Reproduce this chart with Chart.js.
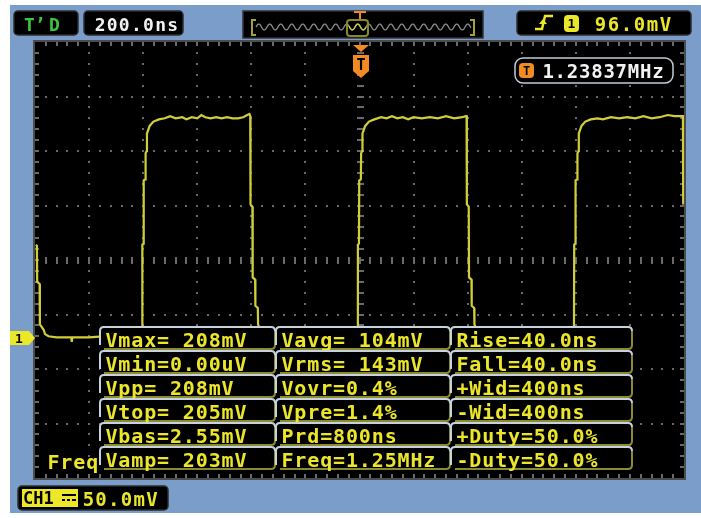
<!DOCTYPE html>
<html>
<head>
<meta charset="utf-8">
<script src="https://cdn.jsdelivr.net/npm/chart.js@4.4.0/dist/chart.umd.min.js"></script>
<style>
  html, body { margin: 0; padding: 0; background: #fff; }
  canvas { display: block; }
</style>
</head>
<body>
<canvas id="scope" width="701" height="518"></canvas>
<script>
// Trace: time in ns (0 = trigger point), level in mV
const timeNs = [
  -1197, -1193, -1192, -1183, -1182, -1168, -1163, -1150, -1120, -1066, -1064, -1062, -1000, -950, -900, -850,
  -804, -803, -799, -798, -792, -791, -787, -786, -776, -762, -742, -720, -700, -680, -655, -640, -620, -600,
  -585, -570, -550, -530, -510, -490, -470, -450, -430, -415, -407,
  -404, -403, -396, -395, -386, -385, -376, -375, -365, -350, -330, -300, -250, -200, -150, -100, -50,
  -7, -6, -2, -1, 5, 6, 10, 11, 21, 35, 55, 80, 100, 120, 140, 160, 180, 200, 230, 260, 290, 320, 350, 380, 393,
  396, 397, 404, 405, 414, 415, 424, 425, 435, 450, 470, 500, 550, 600, 650, 700, 750,
  793, 794, 798, 799, 805, 806, 810, 811, 821, 835, 855, 880, 900, 930, 960, 990, 1020, 1050, 1080, 1110, 1140,
  1165, 1180, 1196, 1197
];
const voltMv = [
  86, 85, 52, 50, 13, 8, 4, 2, 1, 1, -3, 1, 1, 2, 1, 1,
  1, 86, 87, 145, 146, 170, 172, 188, 195, 199, 201, 202, 204, 202, 203, 201, 203, 202,
  205, 203, 202, 203, 202, 203, 202, 202, 203, 205, 206,
  204, 123, 121, 56, 54, 30, 28, 13, 6, 3, 1, 2, 1, 1, 2, 1, 1,
  1, 86, 87, 145, 146, 170, 172, 188, 195, 199, 201, 203, 202, 204, 202, 203, 201, 203, 202, 203, 202, 204, 202, 203, 204,
  204, 123, 121, 56, 54, 30, 28, 13, 6, 3, 1, 2, 1, 1, 2, 1, 1,
  1, 86, 87, 145, 146, 170, 172, 188, 195, 199, 201, 202, 201, 203, 202, 203, 202, 204, 202, 203, 205,
  204, 204, 204, 123
];

// Screen scale: 12 x 8 divisions
const timeRange = [-1200, 1200];   // 200 ns/div
const voltRange = [-128, 272];     // 50 mV/div, ground 72 mV below centre
const timeDiv = 200;
const voltDiv = 50;

// Readouts on the screen
const timeBase = '200.0ns';
const trigLevel = '96.0mV';
const counterFreq = '1.23837MHz';
const chScale = '50.0mV';
const measureCol1 = ['Vmax= 208mV', 'Vmin=0.00uV', 'Vpp= 208mV', 'Vtop= 205mV', 'Vbas=2.55mV', 'Vamp= 203mV'];
const measureCol2 = ['Vavg= 104mV', 'Vrms= 143mV', 'Vovr=0.4%', 'Vpre=1.4%', 'Prd=800ns', 'Freq=1.25MHz'];
const measureCol3 = ['Rise=40.0ns', 'Fall=40.0ns', '+Wid=400ns', '-Wid=400ns', '+Duty=50.0%', '-Duty=50.0%'];

const YELLOW = '#ece62a';
const TRACE = '#d2ce3a';
const ORANGE = '#f28c22';
const MONO = '"DejaVu Sans Mono", monospace';

function monoText(ctx, str, x, base, pitch, size, color, bold) {
  ctx.font = (bold ? 'bold ' : '') + size + 'px ' + MONO;
  ctx.fillStyle = color;
  ctx.textAlign = 'center';
  ctx.textBaseline = 'alphabetic';
  for (let i = 0; i < str.length; i++) {
    ctx.fillText(str[i], x + pitch * i + pitch / 2, base);
  }
}

function darkBox(ctx, x, y, w, h, r) {
  ctx.beginPath();
  ctx.roundRect(x, y, w, h, r);
  ctx.fillStyle = '#000';
  ctx.fill();
  ctx.strokeStyle = '#2c2c2c';
  ctx.lineWidth = 1.5;
  ctx.stroke();
}

function measureCell(ctx, x, y, w, h) {
  const r = 4;
  ctx.fillStyle = '#000';
  ctx.fillRect(x, y, w, h);
  ctx.lineWidth = 2;
  ctx.strokeStyle = '#8d8b30';
  ctx.beginPath();
  ctx.moveTo(x + r, y + h);
  ctx.lineTo(x + w - r, y + h);
  ctx.quadraticCurveTo(x + w, y + h, x + w, y + h - r);
  ctx.lineTo(x + w, y + r);
  ctx.stroke();
  ctx.strokeStyle = '#c6d2de';
  ctx.beginPath();
  ctx.moveTo(x, y + h - r);
  ctx.lineTo(x, y + r);
  ctx.quadraticCurveTo(x, y, x + r, y);
  ctx.lineTo(x + w - r, y);
  ctx.quadraticCurveTo(x + w, y, x + w, y + r);
  ctx.stroke();
}

// panel, screen and graticule
const graticule = {
  id: 'graticule',
  beforeDraw(chart) {
    const ctx = chart.ctx;
    const a = chart.chartArea;
    ctx.save();
    ctx.fillStyle = '#fff';
    ctx.fillRect(0, 0, chart.width, chart.height);
    ctx.fillStyle = '#7b9dca';
    ctx.fillRect(10, 5, 691, 508);
    ctx.fillStyle = '#000';
    ctx.fillRect(a.left, a.top, a.right - a.left, a.bottom - a.top);
    ctx.strokeStyle = '#4c4c4c';
    ctx.lineWidth = 2;
    ctx.strokeRect(a.left - 1, a.top - 1, a.right - a.left + 2, a.bottom - a.top + 2);
    ctx.restore();
  },
  beforeDatasetsDraw(chart) {
    const ctx = chart.ctx;
    const xs = chart.scales.x, ys = chart.scales.y;
    const a = chart.chartArea;
    const minorT = timeDiv / 5, minorV = voltDiv / 5;
    const midV = (voltRange[0] + voltRange[1]) / 2;
    ctx.save();
    ctx.fillStyle = '#6a6a6a';
    // vertical dotted lines
    for (let t = timeRange[0] + timeDiv; t < timeRange[1]; t += timeDiv) {
      const px = Math.round(xs.getPixelForValue(t));
      for (let v = voltRange[0] + minorV; v < voltRange[1]; v += minorV) {
        const py = Math.round(ys.getPixelForValue(v));
        if (t === 0) ctx.fillRect(px - 3, py - 1, 7, 2);
        else ctx.fillRect(px - 1, py - 1, 2, 2);
      }
    }
    // horizontal dotted lines
    for (let v = voltRange[0] + voltDiv; v < voltRange[1]; v += voltDiv) {
      const py = Math.round(ys.getPixelForValue(v));
      for (let t = timeRange[0] + minorT; t < timeRange[1]; t += minorT) {
        const px = Math.round(xs.getPixelForValue(t));
        if (v === midV) ctx.fillRect(px - 1, py - 3, 2, 7);
        else ctx.fillRect(px - 1, py - 1, 2, 2);
      }
    }
    // edge ticks
    for (let t = timeRange[0] + minorT; t < timeRange[1]; t += minorT) {
      const px = Math.round(xs.getPixelForValue(t));
      ctx.fillRect(px - 1, a.top, 2, 4);
      ctx.fillRect(px - 1, a.bottom - 4, 2, 4);
    }
    for (let v = voltRange[0] + minorV; v < voltRange[1]; v += minorV) {
      const py = Math.round(ys.getPixelForValue(v));
      ctx.fillRect(a.left, py - 1, 4, 2);
      ctx.fillRect(a.right - 4, py - 1, 4, 2);
    }
    ctx.restore();
  },
  afterDatasetsDraw(chart) {
    const ctx = chart.ctx;
    const ys = chart.scales.y;
    const xs = chart.scales.x;
    ctx.save();

    // top status bar
    darkBox(ctx, 14, 11, 64, 24, 4);
    ctx.font = 'bold 18px ' + MONO;
    ctx.fillStyle = '#3fc43f';
    ctx.textAlign = 'left';
    ctx.fillText('T\u2019', 24, 31);
    ctx.fillText('D', 49, 31);
    darkBox(ctx, 84, 11, 99, 24, 4);
    monoText(ctx, timeBase, 94, 31, 12.1, 18, '#f2f2f2', true);

    // memory window bar
    ctx.fillStyle = '#000';
    ctx.fillRect(243, 11, 240, 27);
    ctx.strokeStyle = '#333';
    ctx.lineWidth = 1.5;
    ctx.strokeRect(243, 11, 240, 27);
    ctx.lineWidth = 1.3;
    ctx.strokeStyle = '#8e8e8e';
    ctx.beginPath();
    for (let x = 256; x <= 471; x += 0.5) {
      const y = 27 - 3 * Math.sin((x - 256) / 11 * 2 * Math.PI);
      if (x === 256) ctx.moveTo(x, y); else ctx.lineTo(x, y);
    }
    ctx.stroke();
    ctx.strokeStyle = TRACE;
    ctx.beginPath();
    for (let x = 349; x <= 366; x += 0.5) {
      const y = 27 - 3 * Math.sin((x - 256) / 11 * 2 * Math.PI);
      if (x === 349) ctx.moveTo(x, y); else ctx.lineTo(x, y);
    }
    ctx.stroke();
    ctx.strokeStyle = '#8a8a22';
    ctx.lineWidth = 2;
    ctx.beginPath();
    ctx.roundRect(347, 20, 21, 16, 3);
    ctx.stroke();
    ctx.strokeStyle = '#a5a235';
    ctx.beginPath();
    ctx.moveTo(256, 20); ctx.lineTo(252, 20); ctx.lineTo(252, 35); ctx.lineTo(256, 35);
    ctx.moveTo(470, 20); ctx.lineTo(474, 20); ctx.lineTo(474, 35); ctx.lineTo(470, 35);
    ctx.stroke();
    ctx.strokeStyle = ORANGE;
    ctx.lineWidth = 2;
    ctx.beginPath();
    ctx.moveTo(354, 12); ctx.lineTo(366, 12);
    ctx.moveTo(360, 12); ctx.lineTo(360, 19);
    ctx.stroke();

    // trigger readout
    darkBox(ctx, 517, 11, 174, 24, 4);
    ctx.strokeStyle = YELLOW;
    ctx.fillStyle = YELLOW;
    ctx.lineWidth = 2.5;
    ctx.beginPath();
    ctx.moveTo(535, 29); ctx.lineTo(542, 29); ctx.lineTo(545, 16); ctx.lineTo(553, 16);
    ctx.stroke();
    ctx.beginPath();
    ctx.moveTo(539, 24); ctx.lineTo(547, 24); ctx.lineTo(543, 19); ctx.closePath();
    ctx.fill();
    ctx.beginPath();
    ctx.roundRect(564, 15, 15, 17, 4);
    ctx.fill();
    ctx.font = 'bold 13px ' + MONO;
    ctx.fillStyle = '#000';
    ctx.textAlign = 'center';
    ctx.fillText('1', 571.5, 28);
    monoText(ctx, trigLevel, 594, 31, 13, 19, YELLOW, true);

    // trigger position marker
    const tx = Math.round(xs.getPixelForValue(0)) + 1;
    ctx.fillStyle = ORANGE;
    ctx.beginPath();
    ctx.moveTo(tx - 8, 45); ctx.lineTo(tx + 8, 45); ctx.lineTo(tx, 52); ctx.closePath();
    ctx.fill();
    ctx.beginPath();
    ctx.moveTo(tx - 8, 55); ctx.lineTo(tx + 8, 55); ctx.lineTo(tx + 8, 71);
    ctx.lineTo(tx, 78); ctx.lineTo(tx - 8, 71); ctx.closePath();
    ctx.fill();
    ctx.font = 'bold 15px ' + MONO;
    ctx.fillStyle = '#000';
    ctx.fillText('T', tx, 70);

    // frequency counter
    ctx.beginPath();
    ctx.roundRect(515, 58, 158, 25, 8);
    ctx.fillStyle = '#000';
    ctx.fill();
    ctx.strokeStyle = '#c2ccd6';
    ctx.lineWidth = 1.5;
    ctx.stroke();
    ctx.beginPath();
    ctx.roundRect(519, 63, 15, 15, 4);
    ctx.fillStyle = ORANGE;
    ctx.fill();
    ctx.font = 'bold 12px ' + MONO;
    ctx.fillStyle = '#000';
    ctx.fillText('T', 526.5, 75);
    monoText(ctx, counterFreq, 542, 78, 12.2, 19, '#f2f2f2', true);

    // ground marker for channel 1
    const gy = Math.round(ys.getPixelForValue(0));
    ctx.fillStyle = '#ede72a';
    ctx.beginPath();
    ctx.moveTo(10, gy - 7); ctx.lineTo(29, gy - 7); ctx.lineTo(35, gy);
    ctx.lineTo(29, gy + 7); ctx.lineTo(10, gy + 7); ctx.closePath();
    ctx.fill();
    ctx.font = 'bold 13px ' + MONO;
    ctx.fillStyle = '#000';
    ctx.fillText('1', 19, gy + 5);

    // label partly hidden behind the table
    monoText(ctx, 'Freq', 47, 469, 12.9, 20, YELLOW, true);

    // measurement table
    const cols = [[100, 175, measureCol1], [276, 174, measureCol2], [451, 181, measureCol3]];
    for (let r = 0; r < 6; r++) {
      const y = 327 + r * 24;
      cols.forEach(([x, w, list]) => {
        measureCell(ctx, x, y, w, 22);
        monoText(ctx, list[r], x + 5, y + 20, 12.9, 20, YELLOW, true);
      });
    }

    // channel scale readout
    darkBox(ctx, 18, 486, 150, 24, 4);
    ctx.fillStyle = '#ede72a';
    ctx.fillRect(22, 489, 56, 18);
    ctx.font = 'bold 17px ' + MONO;
    ctx.fillStyle = '#000';
    ctx.textAlign = 'left';
    ctx.fillText('CH1', 23, 504);
    ctx.fillRect(62, 494, 14, 2);
    ctx.fillRect(62, 499, 3, 2);
    ctx.fillRect(67, 499, 3, 2);
    ctx.fillRect(72, 499, 4, 2);
    monoText(ctx, chScale, 82, 506, 12.7, 19, YELLOW, true);

    ctx.restore();
  }
};

const ctxScope = document.getElementById('scope').getContext('2d');
const scopeChart = new Chart(ctxScope, {
  type: 'line',
  data: {
    datasets: [{
      label: 'CH1',
      data: timeNs.map((t, i) => ({ x: t, y: voltMv[i] })),
      borderColor: TRACE,
      borderWidth: 2.2,
      pointRadius: 0,
      tension: 0,
      fill: false
    }]
  },
  options: {
    responsive: false,
    animation: false,
    devicePixelRatio: 1,
    layout: { padding: { left: 35, right: 17, top: 42, bottom: 40 } },
    scales: {
      x: { type: 'linear', min: timeRange[0], max: timeRange[1], display: false },
      y: { type: 'linear', min: voltRange[0], max: voltRange[1], display: false }
    },
    plugins: {
      legend: { display: false },
      tooltip: { enabled: false }
    }
  },
  plugins: [graticule]
});
</script>
</body>
</html>
